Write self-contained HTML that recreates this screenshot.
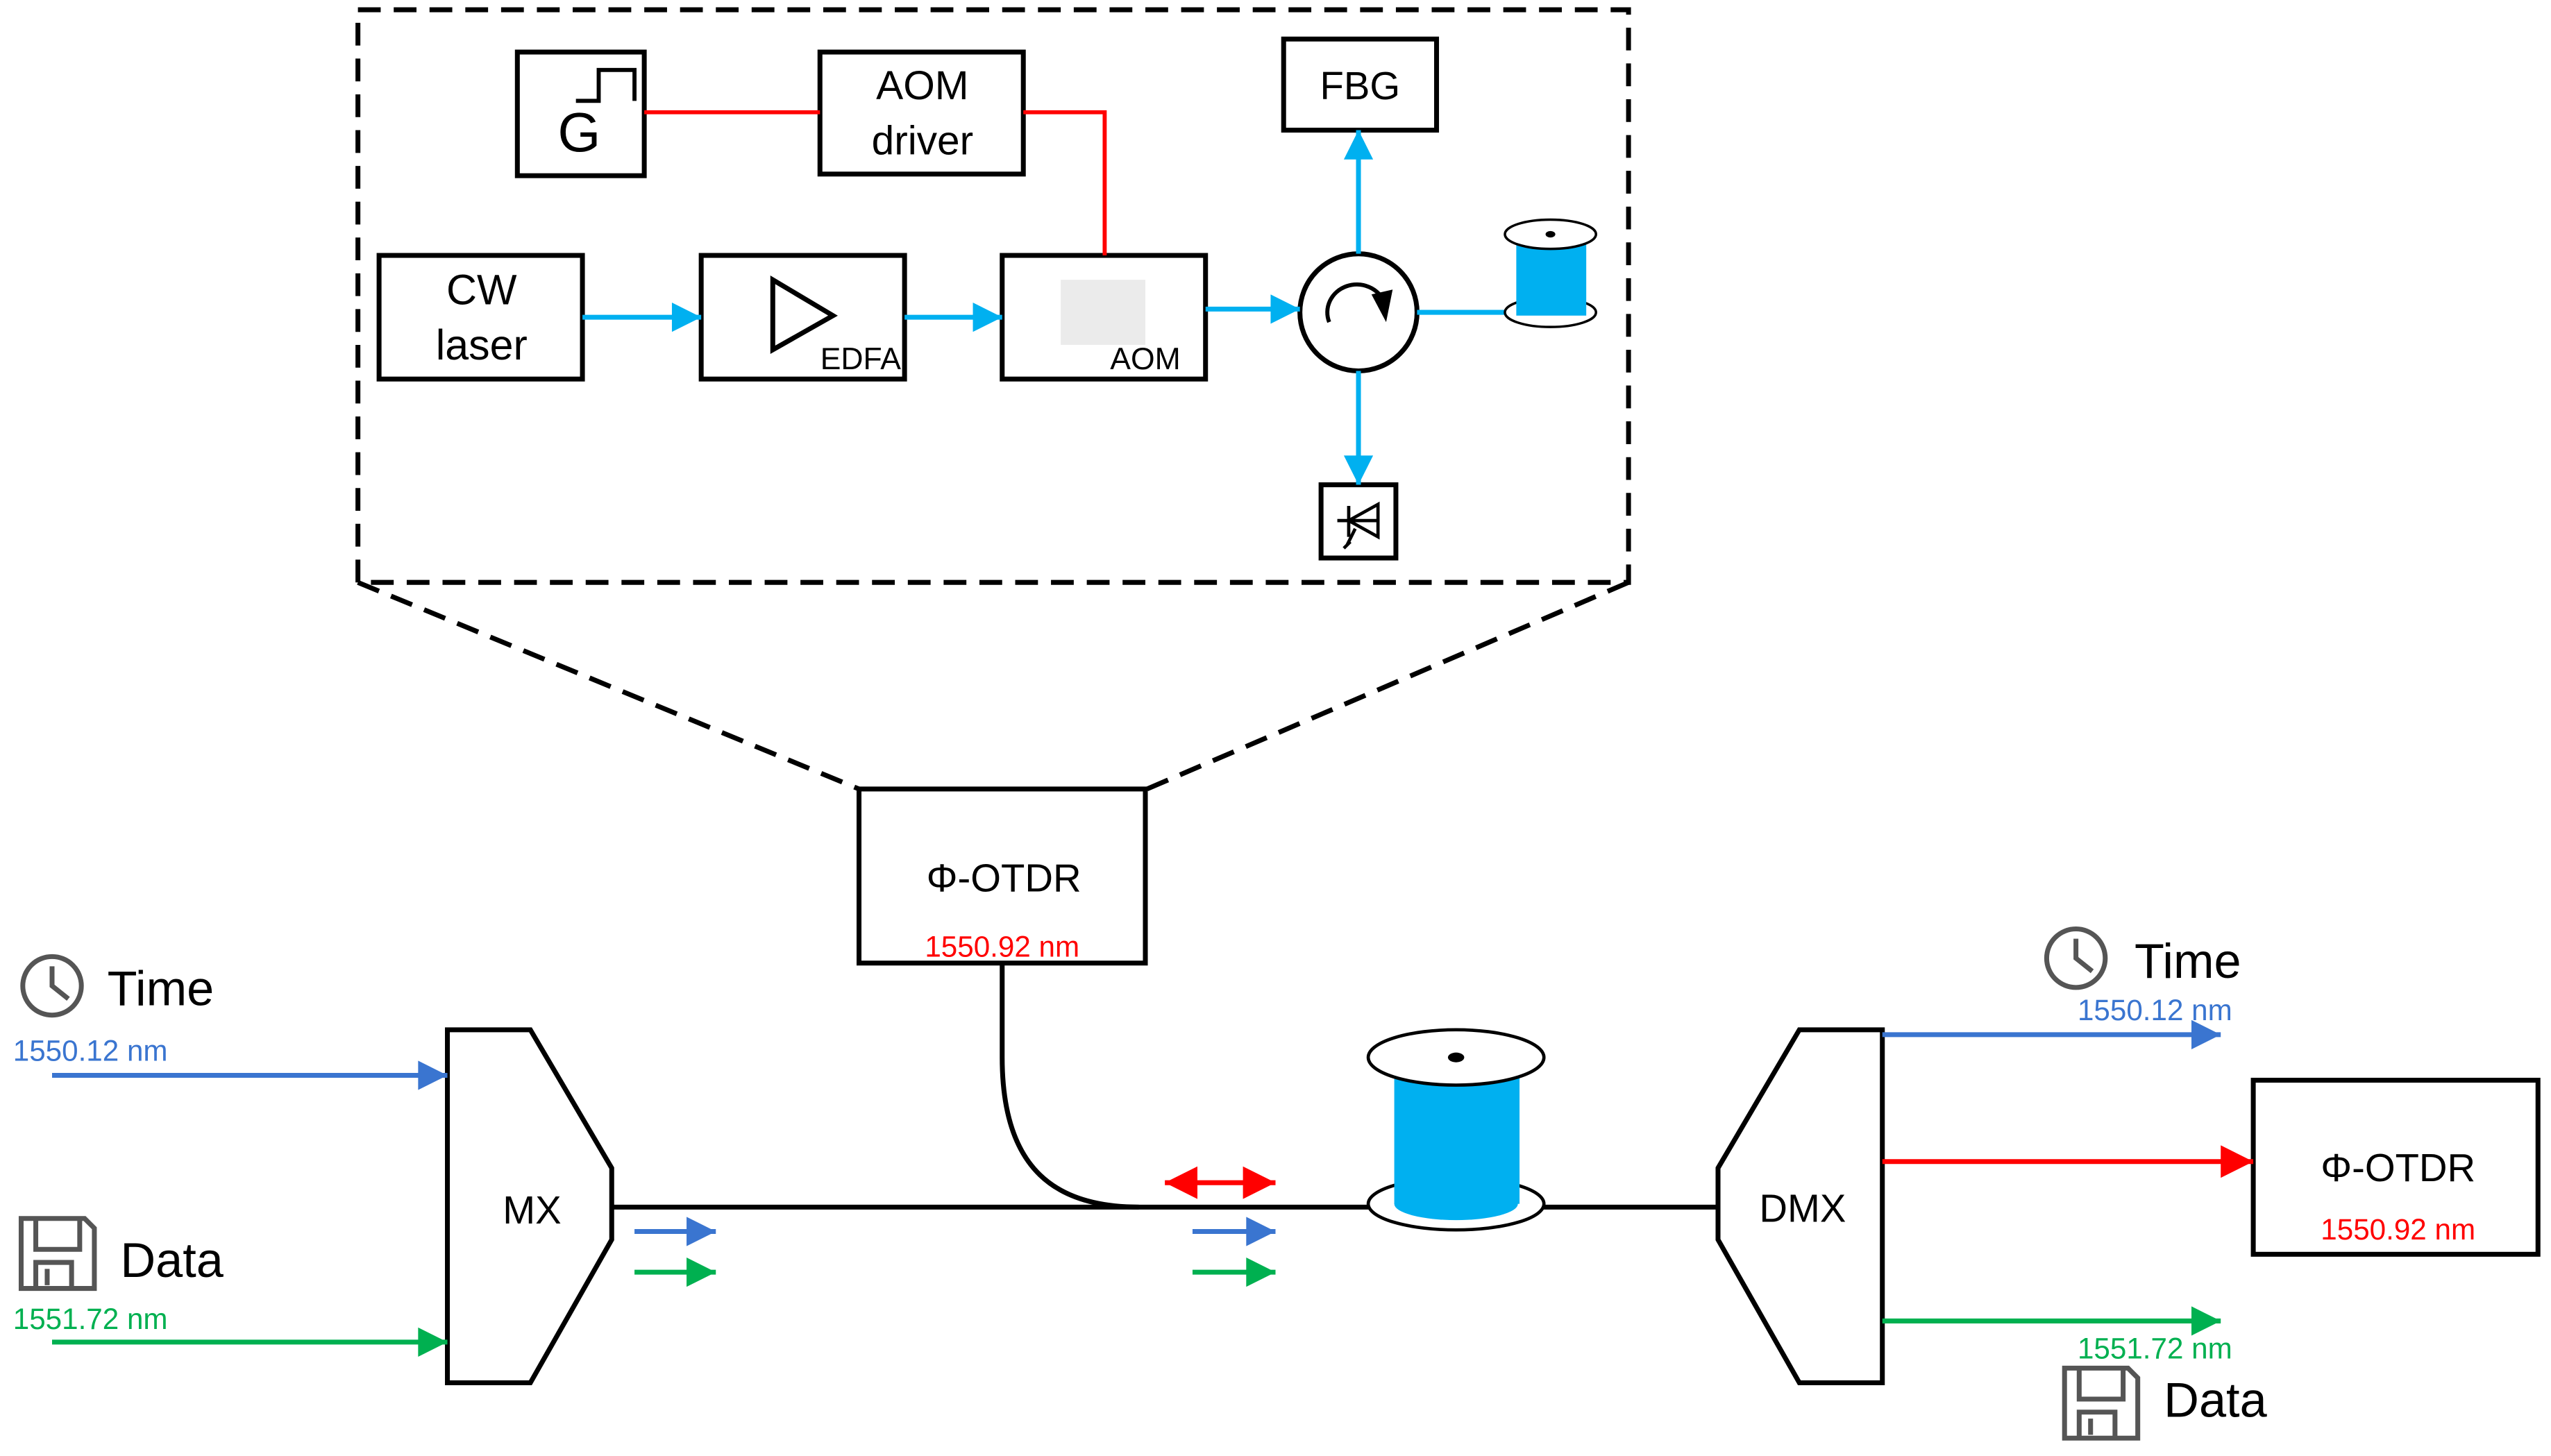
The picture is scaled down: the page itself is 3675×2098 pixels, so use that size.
<!DOCTYPE html>
<html><head><meta charset="utf-8"><style>html,body{margin:0;padding:0;background:#fff}svg{display:block}text{font-family:"Liberation Sans","DejaVu Sans",sans-serif}</style></head>
<body>
<svg width="3675" height="2098" viewBox="0 0 1568 895" preserveAspectRatio="none" xmlns="http://www.w3.org/2000/svg">
<defs>
<marker id="abl" viewBox="0 0 10 10" refX="10" refY="5" markerWidth="20" markerHeight="18" orient="auto" markerUnits="userSpaceOnUse"><path d="M0,0L10,5L0,10z" fill="#00B0F0"/></marker>
<marker id="mb" viewBox="0 0 10 10" refX="10" refY="5" markerWidth="20" markerHeight="18" orient="auto" markerUnits="userSpaceOnUse"><path d="M0,0L10,5L0,10z" fill="#3A75D0"/></marker>
<marker id="mg" viewBox="0 0 10 10" refX="10" refY="5" markerWidth="20" markerHeight="18" orient="auto" markerUnits="userSpaceOnUse"><path d="M0,0L10,5L0,10z" fill="#00B050"/></marker>
<marker id="mr" viewBox="0 0 10 10" refX="10" refY="5" markerWidth="24" markerHeight="20" orient="auto-start-reverse" markerUnits="userSpaceOnUse"><path d="M0,0L10,5L0,10z" fill="#FF0000"/></marker>
</defs>
<g fill="none" stroke="#000" stroke-width="3">
<rect x="220" y="6" width="781" height="352" stroke-dasharray="14,8"/>
<path d="M220,358L528,485M1001,358L705,485" stroke-dasharray="14,8"/>
<rect x="318" y="32" width="78" height="76"/>
<rect x="504" y="32" width="125" height="75"/>
<rect x="789" y="24" width="94" height="56"/>
<rect x="233" y="157" width="125" height="76"/>
<rect x="431" y="157" width="125" height="76"/>
<rect x="616" y="157" width="125" height="76"/>
<rect x="812" y="298" width="46" height="45"/>
<path d="M475,172L512,194L475,215z"/>
<circle cx="835" cy="192" r="36"/>
<rect x="528" y="485" width="176" height="107"/>
<rect x="1385" y="664" width="175" height="107"/>
<path d="M275,633H326L376,718V762L326,850H275z"/>
<path d="M1056,718L1106,633H1157V850H1106L1056,762z"/>
</g>
<path d="M354,62H368V43H390V62" fill="none" stroke="#000" stroke-width="2.5"/>
<text x="356" y="93" font-size="34" text-anchor="middle">G</text>
<path d="M817,198A18,17 0 1 1 851,186" fill="none" stroke="#000" stroke-width="2.5"/>
<path d="M843,181L856,178L852,198z" fill="#000"/>
<path d="M822,320H847M829,311V330M829,320L847,310V330Z M833,325l-5,10 M830,333l-4,4" fill="none" stroke="#000" stroke-width="2"/>
<rect x="652" y="172" width="52" height="40" fill="#ddd" opacity="0.6"/>
<g stroke="#FF0000" stroke-width="2.5" fill="none"><path d="M396,69H504M629,69H679V157"/></g>
<g stroke="#00B0F0" stroke-width="3" fill="none">
<path d="M358,195H431" marker-end="url(#abl)"/>
<path d="M556,195H616" marker-end="url(#abl)"/>
<path d="M741,190H799" marker-end="url(#abl)"/>
<path d="M835,156V80" marker-end="url(#abl)"/>
<path d="M835,228V298" marker-end="url(#abl)"/>
<path d="M871,192H935"/>
</g>
<ellipse cx="953" cy="192" rx="28" ry="9" fill="#fff" stroke="#000" stroke-width="1.5"/>
<rect x="932" y="144" width="43" height="50" fill="#00B0F0"/>
<ellipse cx="953" cy="144" rx="28" ry="9" fill="#fff" stroke="#000" stroke-width="1.5"/>
<ellipse cx="953" cy="144" rx="3" ry="2" fill="#000"/>
<text x="567" y="61" font-size="25" text-anchor="middle">AOM</text>
<text x="567" y="95" font-size="25" text-anchor="middle">driver</text>
<text x="836" y="61" font-size="24" text-anchor="middle">FBG</text>
<text x="296" y="187" font-size="26" text-anchor="middle">CW</text>
<text x="296" y="221" font-size="26" text-anchor="middle">laser</text>
<text x="529" y="227" font-size="19" text-anchor="middle">EDFA</text>
<text x="704" y="227" font-size="19" text-anchor="middle">AOM</text>
<path d="M616,592V650C616,720 650,742 700,742" fill="none" stroke="#000" stroke-width="3"/>
<path d="M376,742H1056" stroke="#000" stroke-width="3"/>
<ellipse cx="895" cy="740" rx="54" ry="16" fill="#fff" stroke="#000" stroke-width="2"/>
<rect x="857" y="650" width="77" height="90" fill="#00B0F0"/>
<ellipse cx="895" cy="740" rx="38" ry="10" fill="#00B0F0"/>
<ellipse cx="895" cy="650" rx="54" ry="17" fill="#fff" stroke="#000" stroke-width="2"/>
<ellipse cx="895" cy="650" rx="5" ry="3" fill="#000"/>
<text x="617" y="548" font-size="24" text-anchor="middle">Φ-OTDR</text>
<text x="616" y="588" font-size="18" fill="#FF0000" text-anchor="middle">1550.92 nm</text>
<text x="1474" y="726" font-size="24" text-anchor="middle">Φ-OTDR</text>
<text x="1474" y="762" font-size="18" fill="#FF0000" text-anchor="middle">1550.92 nm</text>
<text x="327" y="752" font-size="24" text-anchor="middle">MX</text>
<text x="1108" y="751" font-size="24" text-anchor="middle">DMX</text>
<g stroke-width="3" fill="none">
<path d="M32,661H275" stroke="#3A75D0" marker-end="url(#mb)"/>
<path d="M32,825H275" stroke="#00B050" marker-end="url(#mg)"/>
<path d="M390,757H440" stroke="#3A75D0" marker-end="url(#mb)"/>
<path d="M390,782H440" stroke="#00B050" marker-end="url(#mg)"/>
<path d="M733,757H784" stroke="#3A75D0" marker-end="url(#mb)"/>
<path d="M733,782H784" stroke="#00B050" marker-end="url(#mg)"/>
<path d="M716,727H784" stroke="#FF0000" marker-start="url(#mr)" marker-end="url(#mr)"/>
<path d="M1157,636H1365" stroke="#3A75D0" marker-end="url(#mb)"/>
<path d="M1157,714H1385" stroke="#FF0000" marker-end="url(#mr)"/>
<path d="M1157,812H1365" stroke="#00B050" marker-end="url(#mg)"/>
</g>
<text x="8" y="652" font-size="18" fill="#3A75D0">1550.12 nm</text>
<text x="8" y="817" font-size="18" fill="#00B050">1551.72 nm</text>
<text x="1277" y="627" font-size="18" fill="#3A75D0">1550.12 nm</text>
<text x="1277" y="835" font-size="18" fill="#00B050">1551.72 nm</text>
<g fill="none" stroke="#555" stroke-width="3">
<circle cx="32" cy="606" r="18"/><path d="M32,594V606L42,614"/>
<circle cx="1276" cy="589" r="18"/><path d="M1276,577V589L1286,597"/>
<path d="M13,749H52L58,755V792H13z M22,749V768H49V749 M22,792V776H44V792 M29,780V790"/>
<path d="M1269,841H1308L1314,847V884H1269z M1278,841V860H1305V841 M1278,884V868H1300V884 M1285,872V882"/>
</g>
<text x="66" y="618" font-size="30">Time</text>
<text x="1312" y="601" font-size="30">Time</text>
<text x="74" y="785" font-size="30">Data</text>
<text x="1330" y="871" font-size="30">Data</text>
</svg>
</body></html>
